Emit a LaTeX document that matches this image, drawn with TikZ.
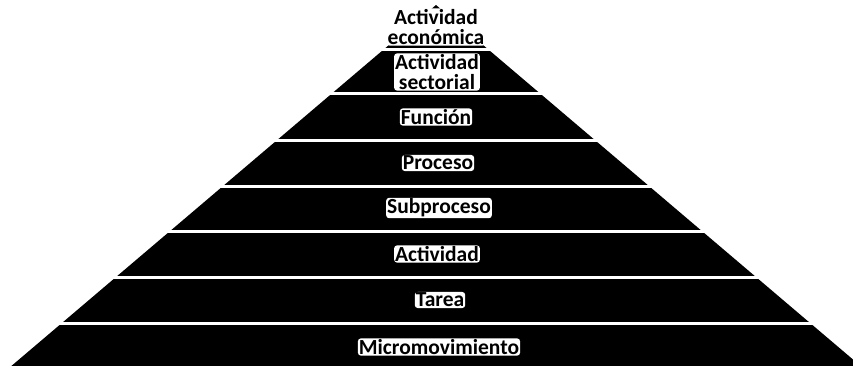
\documentclass[tikz,border=0pt]{standalone}
\usepackage{fontspec}
\setmainfont{Carlito}
\tikzset{
  band/.style={fill=black},
  sepline/.style={draw=white, line width=3pt},
  lvl/.style={fill=white, rounded corners=3pt, inner sep=1pt, align=center,
    text=black, font=\bfseries\fontsize{21.5}{20}\selectfont},
}
\begin{document}
\begin{tikzpicture}[x=1pt,y=-1pt]
\useasboundingbox (0,0) rectangle (853,365);
\clip (0,0) rectangle (853,365);

\coordinate (apex) at (436,5);
\coordinate (BL) at (9,368);
\coordinate (BR) at (863,368);
\fill[band] (apex) -- (BL) -- (BR) -- cycle;

\draw[sepline] (0,49) -- (853,49);
\draw[sepline] (0,93) -- (853,93);
\draw[sepline] (0,140) -- (853,140);
\draw[sepline] (0,186) -- (853,186);
\draw[sepline] (0,231) -- (853,231);
\draw[sepline] (0,277) -- (853,277);
\draw[sepline] (0,323) -- (853,323);

\node[lvl] (econ) at (436,27) {Actividad\\económica};
\node[lvl] (sect) at (437,72) {Actividad\\sectorial};
\node[lvl] (func) at (436,117) {Función};
\node[lvl] (proc) at (438,163) {Proceso};
\node[lvl] (subp) at (439,208) {Subproceso};
\node[lvl] (activ) at (437,254) {Actividad};
\node[lvl] (tarea) at (440,300) {Tarea};
\node[lvl] (micro) at (439,347) {Micromovimiento};
\end{tikzpicture}
\end{document}
